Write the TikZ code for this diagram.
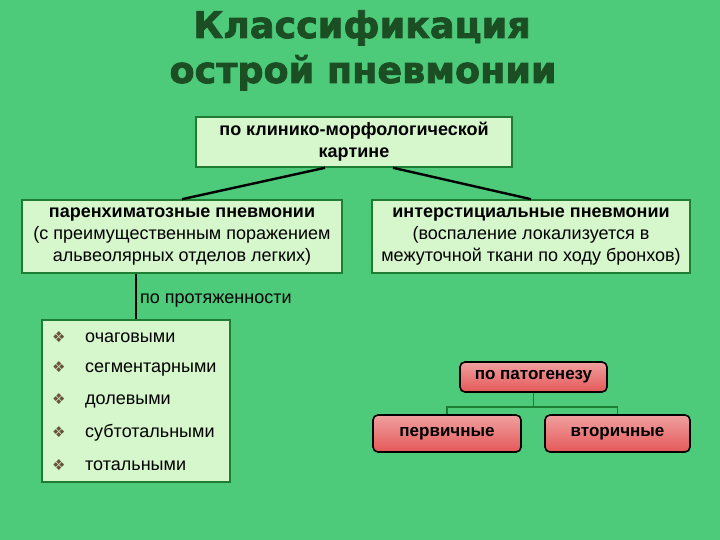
\documentclass[tikz,border=0pt]{standalone}
\usepackage{fontspec}
\setmainfont{Liberation Sans}
\newfontfamily\titlefont{DejaVu Sans}[BoldFeatures={FakeBold=2.2}]
\newfontfamily\symfont{DejaVu Sans}
\usepackage{tikz}
\usetikzlibrary{calc,positioning}
\definecolor{bggreen}{RGB}{77,203,122}
\definecolor{boxfill}{RGB}{214,246,204}
\definecolor{boxline}{RGB}{30,125,50}
\definecolor{titlegreen}{RGB}{28,78,36}
\definecolor{redtop}{RGB}{240,160,160}
\definecolor{redbot}{RGB}{228,88,88}
\definecolor{bulletcol}{RGB}{105,85,60}
\newcommand{\bulletmark}{\makebox[33pt][l]{\symfont\fontsize{15}{15}\selectfont\color{bulletcol}\char"2756}}

\begin{document}
\begin{tikzpicture}[x=1pt,y=-1pt,
    greenbox/.style={draw=boxline,line width=1.6pt,fill=boxfill,align=center,inner sep=0pt,
        font=\fontsize{18}{22}\selectfont},
    redbox/.style={draw=black,line width=1.6pt,rounded corners=5pt,top color=redtop,
        middle color=white,bottom color=redbot,inner sep=0pt,
        font=\bfseries\fontsize{17}{20}\selectfont},
    item/.style={anchor=west,inner sep=0pt,font=\fontsize{18}{22}\selectfont},
    title/.style={anchor=base,inner sep=0pt,text=titlegreen,
        font=\titlefont\bfseries\fontsize{36.5}{40}\selectfont}]

    % Background of the slide
    \fill[bggreen] (0,0) rectangle (720,540);
    \useasboundingbox (0,0) rectangle (720,540);

    % Heading
    \node (title1) [title] at (362,38) {Классификация};
    \node (title2) [title] at (363,83) {острой пневмонии};

    % Main boxes
    \node (mKlin) [greenbox,minimum width=316pt,minimum height=50pt] at (354,142)
        {\bfseries по клинико-морфологической\\ \bfseries картине};
    \node (mPar) [greenbox,minimum width=320pt,minimum height=73pt] at (182,236.5)
        {\bfseries паренхиматозные пневмонии\\ (с преимущественным поражением\\ альвеолярных отделов легких)};
    \node (mInt) [greenbox,minimum width=318pt,minimum height=73pt] at (531,236.5)
        {\bfseries интерстициальные пневмонии\\ (воспаление локализуется в\\ межуточной ткани по ходу бронхов)};

    \draw[line width=2.4pt] ($(mKlin.south)+(-29,0)$) -- (mPar.north);
    \draw[line width=2.4pt] ($(mKlin.south)+(39,0)$) -- (mInt.north);

    % List by extent
    \node (mList) [greenbox,minimum width=188pt,minimum height=162pt] at (136,401) {};
    \draw[line width=1.4pt] (mList.north) -- (mList.north |- mPar.south);
    \node (ext) [item] at (140,301) {по протяженности};

    \node (item1) [item] at (52,337) {\bulletmark очаговыми};
    \node (item2) [item] at (52,369) {\bulletmark сегментарными};
    \node (item3) [item] at (52,401) {\bulletmark долевыми};
    \node (item4) [item] at (52,433) {\bulletmark субтотальными};
    \node (item5) [item] at (52,465) {\bulletmark тотальными};

    % By pathogenesis
    \node (pPat) [redbox,minimum width=147pt,minimum height=30pt] at (533.5,377) {по патогенезу};
    \node (pPer) [redbox,minimum width=148pt,minimum height=37pt] at (447,433.5) {первичные};
    \node (pVt) [redbox,minimum width=145pt,minimum height=37pt] at (617.5,433.5) {вторичные};

    \coordinate (split) at (pPat.south |- 0,407);
    \draw[boxline,line width=1.3pt] (pPat.south) -- (split) -| (pPer.north);
    \draw[boxline,line width=1.3pt] (split) -| (pVt.north);

\end{tikzpicture}
\end{document}
